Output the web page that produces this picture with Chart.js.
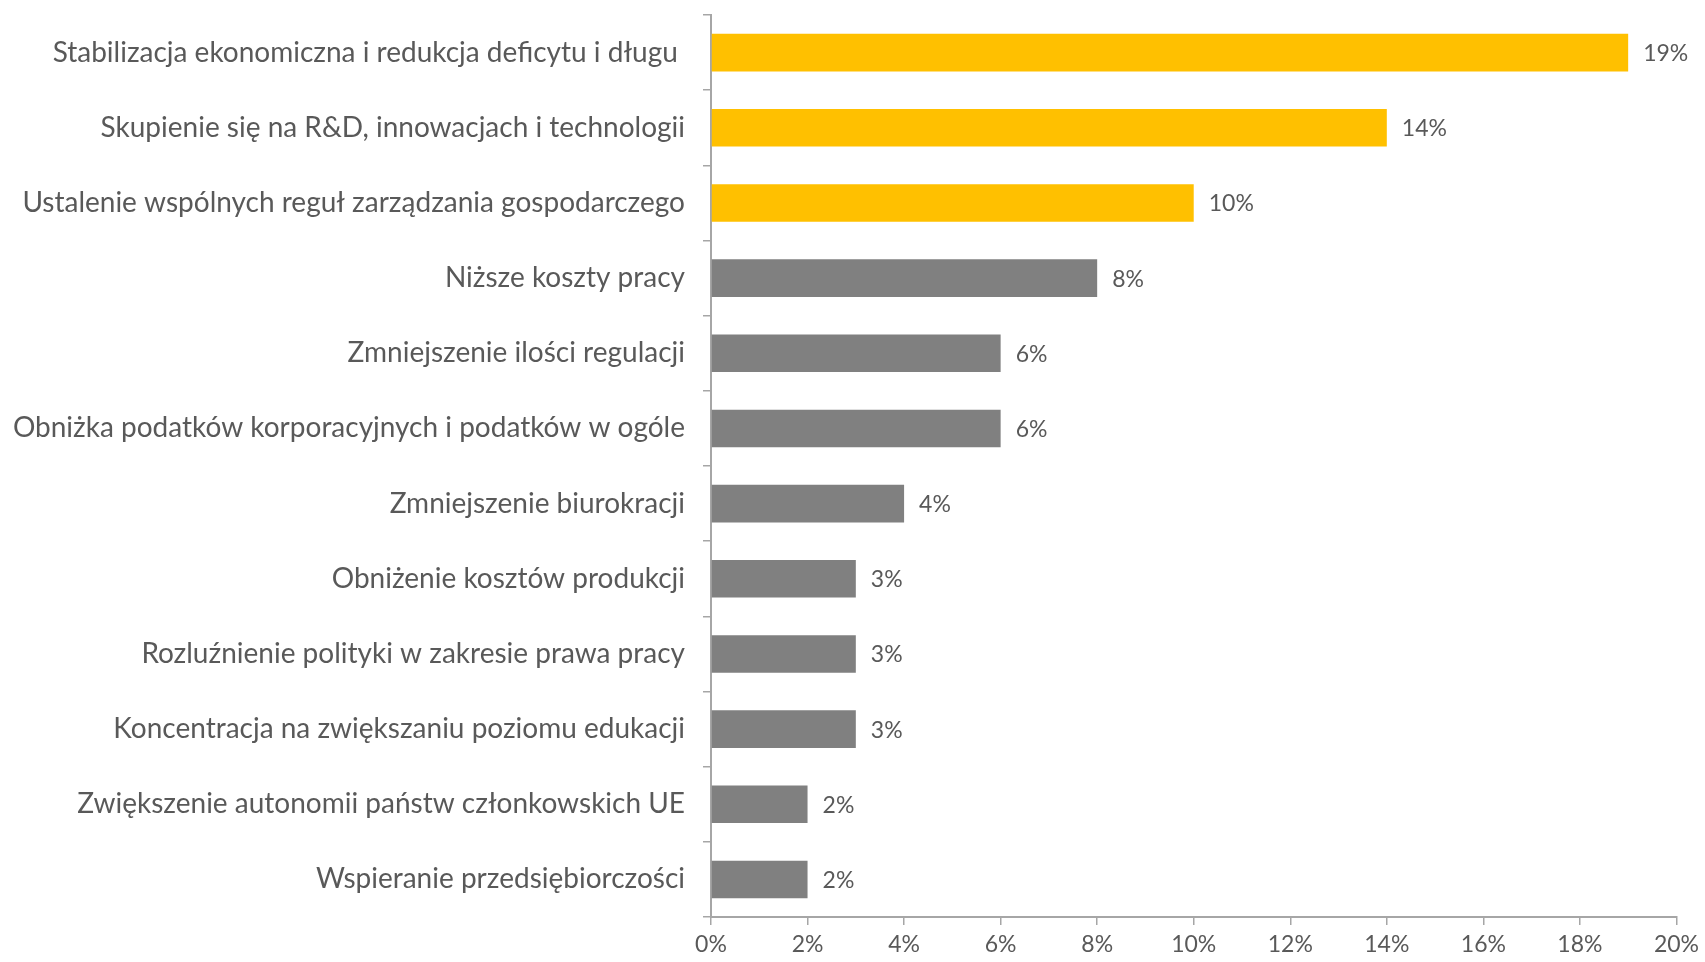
<!DOCTYPE html>
<html>
<head>
<meta charset="utf-8">
<script src="https://cdn.jsdelivr.net/npm/chart.js@4"></script>
<style>
  html, body { margin: 0; padding: 0; background: #fff; }
  #wrap { width: 1705px; height: 962px; }
</style>
</head>
<body>
<div id="wrap"><canvas id="priorityChart"></canvas></div>
<script>
var categories = [
    'Stabilizacja ekonomiczna i redukcja deficytu i długu ',
    'Skupienie się na R&D, innowacjach i technologii',
    'Ustalenie wspólnych reguł zarządzania gospodarczego',
    'Niższe koszty pracy',
    'Zmniejszenie ilości regulacji',
    'Obniżka podatków korporacyjnych i podatków w ogóle',
    'Zmniejszenie biurokracji',
    'Obniżenie kosztów produkcji',
    'Rozluźnienie polityki w zakresie prawa pracy',
    'Koncentracja na zwiększaniu poziomu edukacji',
    'Zwiększenie autonomii państw członkowskich UE',
    'Wspieranie przedsiębiorczości'
];
var values = [19, 14, 10, 8, 6, 6, 4, 3, 3, 3, 2, 2];
var highlighted = [true, true, true, false, false, false, false, false, false, false, false, false];
var xTicks = [0, 2, 4, 6, 8, 10, 12, 14, 16, 18, 20];

var YELLOW = '#ffc000';
var GREY = '#808080';
var TEXT = '#595959';
var AXIS = '#a6a6a6';
var FONT = 'Lato';

// percentage text just right of each bar
var valueLabels = {
    id: 'valueLabels',
    afterDatasetsDraw: function(chart) {
        var ctx = chart.ctx;
        var meta = chart.getDatasetMeta(0);
        ctx.save();
        ctx.font = '23px ' + FONT;
        ctx.fillStyle = TEXT;
        ctx.textAlign = 'left';
        ctx.textBaseline = 'middle';
        meta.data.forEach(function(bar, i) {
            ctx.fillText(values[i] + '%', bar.x + 15, bar.y + 1);
        });
        ctx.restore();
    }
};

document.addEventListener('DOMContentLoaded', function() {
    var ctx = document.getElementById('priorityChart').getContext('2d');

    new Chart(ctx, {
        type: 'bar',
        data: {
            labels: categories,
            datasets: [{
                data: values,
                backgroundColor: highlighted.map(function(h) { return h ? YELLOW : GREY; }),
                borderWidth: 0,
                barPercentage: 0.5,
                categoryPercentage: 1.0
            }]
        },
        options: {
            indexAxis: 'y',
            responsive: true,
            maintainAspectRatio: false,
            animation: false,
            layout: {
                padding: { left: 0, top: 15, right: 28, bottom: 0 }
            },
            scales: {
                x: {
                    min: 0,
                    max: 20,
                    afterBuildTicks: function(scale) {
                        scale.ticks = xTicks.map(function(v) { return { value: v }; });
                    },
                    afterFit: function(scale) { scale.height = 45; },
                    border: { color: AXIS, width: 2 },
                    grid: {
                        drawOnChartArea: false,
                        color: AXIS,
                        lineWidth: 1.5,
                        tickLength: 8
                    },
                    ticks: {
                        color: TEXT,
                        font: { family: FONT, size: 23 },
                        padding: 6,
                        maxRotation: 0,
                        callback: function(v) { return v + '%'; }
                    }
                },
                y: {
                    afterFit: function(scale) {
                        scale.width = 711;
                        scale.paddingTop = 0;
                        scale.paddingBottom = 0;
                    },
                    border: { color: AXIS, width: 2 },
                    grid: {
                        offset: true,
                        drawOnChartArea: false,
                        color: AXIS,
                        lineWidth: 1.5,
                        tickLength: 8
                    },
                    ticks: {
                        color: TEXT,
                        font: { family: FONT, size: 28 },
                        padding: 18,
                        autoSkip: false
                    }
                }
            },
            plugins: {
                legend: { display: false },
                tooltip: { enabled: false }
            }
        },
        plugins: [valueLabels]
    });
});
</script>
</body>
</html>
